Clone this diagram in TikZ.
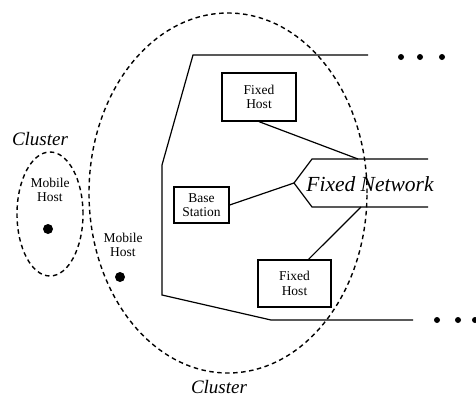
\documentclass[tikz,border=0pt]{standalone}
\usepackage{fontspec}
\setmainfont{Liberation Serif}
\usetikzlibrary{shapes.geometric}
\begin{document}
\begin{tikzpicture}[x=1pt,y=-1pt,
  cell/.style={draw, ellipse, line width=1.4pt, dash pattern=on 4.5pt off 3.5pt, inner sep=0pt},
  hostbox/.style={draw, line width=1.3pt, inner sep=0pt, align=center, font=\fontsize{13.5}{14.5}\selectfont},
  lbl/.style={align=center, inner sep=0pt, font=\fontsize{13.5}{14.5}\selectfont},
  clabel/.style={inner sep=0pt, text depth=0pt, font=\fontsize{19}{20}\selectfont\itshape},
  netlabel/.style={inner sep=0pt, font=\fontsize{21.5}{22}\selectfont\itshape},
  wire/.style={line width=1.2pt},
  hostdot/.style={circle, fill, inner sep=0pt, minimum size=10pt},
  moredot/.style={circle, fill, inner sep=0pt, minimum size=6pt}]
\useasboundingbox (0,0) rectangle (476,397);

% the two clusters
\node[cell, minimum width=278pt, minimum height=360pt] (bigcell) at (228,193) {};
\node[cell, minimum width=66pt, minimum height=124pt] (smallcell) at (50,214) {};
\node[clabel, anchor=base] (clA) at (40,145) {Cluster};
\node[clabel, anchor=base] (clB) at (219,393) {Cluster};

% mobile hosts
\node[lbl] (mhA) at (50,190) {Mobile\\Host};
\node[hostdot] (dotA) at (48,229) {};
\node[lbl] (mhB) at (123,245) {Mobile\\Host};
\node[hostdot] (dotB) at (120,277) {};

% wired region outline, continuing to the right
\draw[wire] (368,55) -- (193,55) -- (162,165) -- (162,295) -- (271,320) -- (413,320);
\node[moredot] (tA) at (401,57) {};
\node[moredot] (tB) at (420,57) {};
\node[moredot] (tC) at (442,57) {};
\node[moredot] (bA) at (437,320) {};
\node[moredot] (bB) at (458,320) {};
\node[moredot] (bC) at (475,320) {};

% fixed network
\coordinate (fnA) at (428,159);
\coordinate (fnB) at (312,159);
\coordinate (fnP) at (294,183);
\coordinate (fnC) at (312,207);
\coordinate (fnD) at (428,207);
\coordinate (fnT) at (358,159);
\coordinate (fnU) at (361,207);
\draw[wire] (fnA) -- (fnB) -- (fnP) -- (fnC) -- (fnD);
\node[netlabel] (fixnet) at (370,184) {Fixed Network};

% hosts and base station on the wired side
\node[hostbox, minimum width=74pt, minimum height=48pt] (fhA) at (259,97) {Fixed\\Host};
\node[hostbox, minimum width=55pt, minimum height=36pt] (bs) at (201.5,205) {Base\\Station};
\node[hostbox, minimum width=73pt, minimum height=47pt] (fhB) at (294.5,283.5) {Fixed\\Host};

\draw[wire] (fhA.south) -- (fnT);
\draw[wire] (bs.east) -- (fnP);
\draw[wire] ([xshift=14pt]fhB.north) -- (fnU);
\end{tikzpicture}
\end{document}
